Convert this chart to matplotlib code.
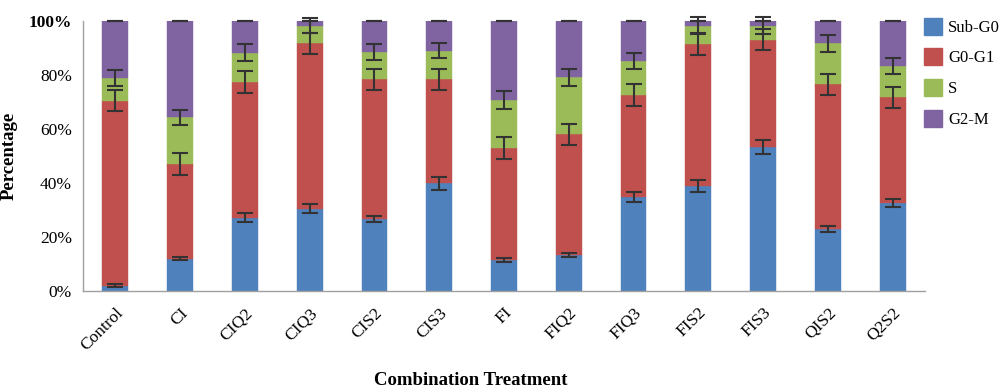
import matplotlib
matplotlib.use("Agg")
import matplotlib.pyplot as plt
import numpy as np
from matplotlib.patches import Patch

categories = ["Control", "CI", "CIQ2", "CIQ3", "CIS2", "CIS3", "FI", "FIQ2",
              "FIQ3", "FIS2", "FIS3", "QIS2", "Q2S2"]
sub_g0 = [2.0, 12.0, 27.2, 30.5, 26.7, 39.9, 11.5, 13.3, 34.7, 38.9, 53.5, 23.0, 32.7]
g0_g1 = [68.5, 35.0, 50.2, 61.2, 51.8, 38.6, 41.3, 44.7, 37.9, 52.5, 39.5, 53.5, 39.0]
s_phase = [8.5, 17.3, 10.9, 6.6, 10.1, 10.5, 17.9, 21.1, 12.6, 6.9, 5.3, 15.2, 11.6]
g2_m = [21.0, 35.7, 11.7, 1.7, 11.4, 11.0, 29.3, 20.9, 14.8, 1.7, 1.7, 8.3, 16.7]

err_sub = [0.5, 0.5, 1.6, 1.7, 1.2, 2.5, 0.6, 0.6, 1.8, 2.1, 2.6, 1.2, 1.5]
err_g0 = [3.8, 4.0, 3.9, 3.9, 3.9, 3.9, 4.1, 4.0, 4.2, 4.0, 3.9, 4.0, 4.0]
err_s = [3.0, 2.8, 3.0, 2.8, 3.0, 2.8, 3.2, 3.0, 2.9, 3.0, 3.0, 3.0, 3.0]
err_g2 = [0.0] * 13

series_names = ["Sub-G0", "G0-G1", "S", "G2-M"]
colors = ["#4F81BD", "#C0504D", "#9BBB59", "#8064A2"]

plt.rcParams["font.family"] = ["Liberation Serif", "DejaVu Serif"]

fig = plt.figure(figsize=(10, 3.89), dpi=100)
ax = fig.add_axes([0.083, 0.252, 0.842, 0.694])

x = np.arange(len(categories))
w = 0.4
bottom = np.zeros(len(categories))
for vals, errs, col in zip([sub_g0, g0_g1, s_phase, g2_m],
                           [err_sub, err_g0, err_s, err_g2], colors):
    vals = np.array(vals)
    ax.bar(x, vals, w, bottom=bottom, color=col, edgecolor=col, linewidth=0.3, zorder=2)
    top = bottom + vals
    ax.errorbar(x, top, yerr=errs, fmt="none", ecolor="#333333", elinewidth=1.5,
                capsize=6, capthick=1.5, zorder=3, clip_on=False)
    bottom = top

ax.set_xlim(-0.5, len(categories) - 0.5)
ax.set_ylim(0, 100)
ax.set_yticks([0, 20, 40, 60, 80, 100])
ax.set_yticklabels(["0%", "20%", "40%", "60%", "80%", "100%"], fontsize=12.5)
ax.get_yticklabels()[-1].set_fontweight("bold")
ax.set_xticks(x)
ax.set_xticklabels(categories, rotation=45, ha="right", rotation_mode="anchor", fontsize=12.5)
ax.tick_params(axis="both", length=0, pad=8)
ax.tick_params(axis="x", pad=10)

for s in ["top", "right"]:
    ax.spines[s].set_visible(False)
for s in ["left", "bottom"]:
    ax.spines[s].set_color("#A0A0A0")
    ax.spines[s].set_linewidth(1.0)

ax.set_ylabel("Percentage", fontsize=13.5, fontweight="bold", labelpad=8)
fig.text(0.471, 0.023, "Combination Treatment", fontsize=13.5, fontweight="bold",
         ha="center", va="center")

handles = [Patch(facecolor=c, edgecolor=c) for c in colors]
fig.legend(handles, series_names, loc="upper left", bbox_to_anchor=(0.924, 0.955),
           frameon=False, fontsize=12, handlelength=1.1, handleheight=1.2,
           handletextpad=0.35, labelspacing=0.75, borderpad=0, borderaxespad=0)

fig.savefig("out.png", dpi=100)
